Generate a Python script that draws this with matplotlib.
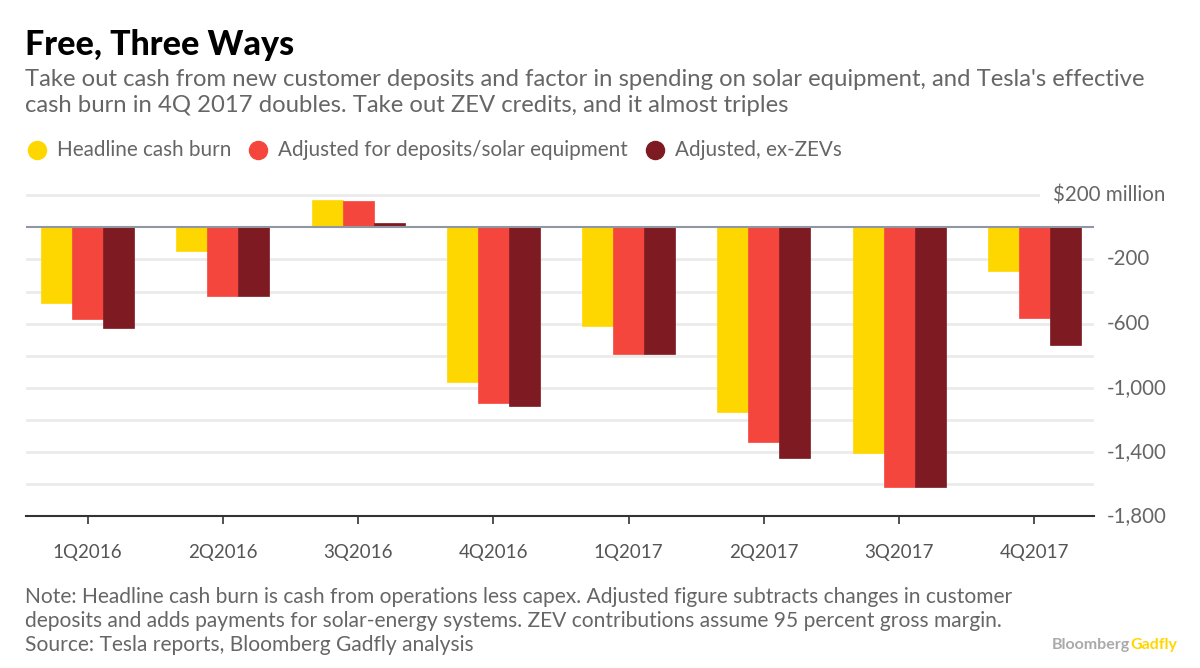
import matplotlib
matplotlib.use('Agg')
import matplotlib.pyplot as plt
import numpy as np
from matplotlib.lines import Line2D
from matplotlib.transforms import blended_transform_factory

# data ($ million)
quarters = ['1Q2016', '2Q2016', '3Q2016', '4Q2016', '1Q2017', '2Q2017', '3Q2017', '4Q2017']
headline = [-469, -146, 171, -966, -617, -1151, -1410, -273]
adjusted = [-573, -431, 162, -1098, -788, -1338, -1621, -565]
ex_zev = [-627, -431, 29, -1117, -788, -1436, -1621, -734]
series_names = ['Headline cash burn', 'Adjusted for deposits/solar equipment', 'Adjusted, ex-ZEVs']
yticks = [200, -200, -600, -1000, -1400, -1800]

colors = ['#FFD700', '#F5463E', '#7E1A21']
gray = '#666666'
plt.rcParams['font.family'] = ['Lato', 'DejaVu Sans']

fig = plt.figure(figsize=(12, 6.68), dpi=100)
ax = fig.add_axes([26/1200, 1 - 516/668, (1094-26)/1200, (516-190.5)/668])

x = np.arange(len(quarters))
w = 0.229
for i, vals in enumerate([headline, adjusted, ex_zev]):
    ax.bar(x + (i - 1) * w, vals, w, color=colors[i], edgecolor=colors[i], linewidth=0.5, zorder=3)

ax.set_xlim(-0.455, len(quarters) - 1 + 0.44)
ax.set_ylim(-1800, 230)

# gridlines
for v in range(-1600, 201, 200):
    if v == 0:
        continue
    xmax = (1038 - 26) / (1094 - 26) if v == 200 else 1
    ax.axhline(v, xmin=0, xmax=xmax, color='#ebebeb', lw=2, zorder=1)
ax.axhline(0, color='#8f97a3', lw=1.5, zorder=4)

for s in ['top', 'right', 'left']:
    ax.spines[s].set_visible(False)
ax.spines['bottom'].set_color('#333333')
ax.spines['bottom'].set_linewidth(1.5)
ax.set_xticks(x)
ax.set_xticklabels(quarters, fontsize=13.5, color='#555555')
ax.tick_params(axis='x', direction='out', length=6, width=1.2, color='#333333', pad=14)
ax.set_yticks([])

ytrans = blended_transform_factory(fig.transFigure, ax.transData)
for v in yticks:
    if v == 200:
        ax.text(1165/1200, v, '$200 million', transform=ytrans,
                ha='right', va='center', fontsize=14.8, color=gray)
    else:
        ax.text(1107/1200, v, '{:,}'.format(v), transform=ytrans,
                ha='left', va='center', fontsize=14.8, color=gray)

# title and subtitle
fig.text(25/1200, 1 - 45/668, 'Free, Three Ways', fontsize=24.5, fontweight='black', color='black', va='center')
fig.text(25/1200, 1 - 80/668, "Take out cash from new customer deposits and factor in spending on solar equipment, and Tesla's effective",
         fontsize=17.2, color=gray, va='center')
fig.text(25/1200, 1 - 106/668, 'cash burn in 4Q 2017 doubles. Take out ZEV credits, and it almost triples',
         fontsize=17.2, color=gray, va='center')

# legend
leg_x = [37, 258, 655]
for cx, c, name in zip(leg_x, colors, series_names):
    fig.add_artist(Line2D([cx/1200], [1 - 150/668], marker='o', markersize=13, color=c, lw=0,
                          transform=fig.transFigure))
    fig.text((cx + 20)/1200, 1 - 150/668, name, fontsize=14.9, color=gray, va='center')

# footer
notes = ['Note: Headline cash burn is cash from operations less capex. Adjusted figure subtracts changes in customer',
         'deposits and adds payments for solar-energy systems. ZEV contributions assume 95 percent gross margin.',
         'Source: Tesla reports, Bloomberg Gadfly analysis']
for i, line in enumerate(notes):
    fig.text(25/1200, 1 - (597 + i * 24)/668, line, fontsize=15.1, color=gray, va='center')

t = fig.text(1052/1200, 1 - 645/668, 'Bloomberg', fontsize=11.5, fontweight='bold', color='#aaaaaa', va='center')
fig.canvas.draw()
bb = t.get_window_extent()
fig.text(bb.x1/1200, 1 - 645/668, 'Gadfly', fontsize=11.5, fontweight='bold', color='#FFD700', va='center')

fig.savefig('out.png', dpi=100)
